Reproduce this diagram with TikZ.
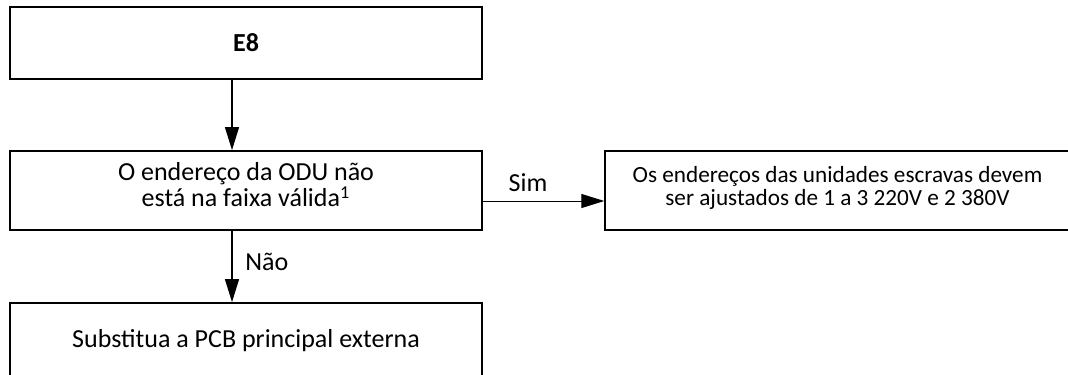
\documentclass[tikz,border=0pt]{standalone}
\usepackage{fontspec}
\setmainfont{Carlito}
\usetikzlibrary{arrows.meta,positioning}

\begin{document}
\begin{tikzpicture}[x=0.5pt,y=-0.5pt,>={Triangle[length=11.5pt,width=7pt]},
    box/.style={draw,line width=0.85pt,minimum width=236pt,minimum height=39.5pt,inner sep=0pt},
    txt/.style={font=\fontsize{13}{13}\selectfont,align=center,inner sep=0pt},
    flow/.style={->,line width=0.65pt}]
  \useasboundingbox (0,0) rectangle (1068,374);
  \clip (0,0) rectangle (1068,374);
  % the boxes of the chart
  \node[box,line width=1pt,minimum height=36pt] (e8) at (246,43) {};
  \node[box] (check) at (246,190.5) {};
  \node[box,line width=0.7pt,minimum width=232.5pt] (slave) at (837.5,190.5) {};
  \node[box] (pcb) at (246,342.5) {};
  % their texts
  \node[txt,anchor=base,font=\fontsize{13}{13}\selectfont\bfseries] (e8txt) at (246,52) {E8};
  \node[txt] (checktxt) at (246,185)
       {O endereço da ODU não\\ está na faixa válida\textsuperscript{1}};
  \node[txt,font=\fontsize{11.6}{11.8}\selectfont] (slavetxt) at (837.5,188)
       {Os endereços das unidades escravas devem\\ ser ajustados de 1 a 3 220V e 2 380V};
  \node[txt,anchor=base] (pcbtxt) at (246,347) {Substitua a PCB principal externa};
  % connectors
  \coordinate (spine) at (232,0);
  \coordinate (simrow) at (0,201);
  \draw[flow] (spine |- e8.south) -- (spine |- check.north);
  \draw[flow] (spine |- check.south) -- (spine |- pcb.north);
  \draw[flow,line width=0.5pt] (check.east |- simrow) -- (slave.west |- simrow);
  \node[txt,anchor=base] (sim) at (528,191) {Sim};
  \node[txt,anchor=base west] (nao) at (245,270) {Não};
\end{tikzpicture}
\end{document}
